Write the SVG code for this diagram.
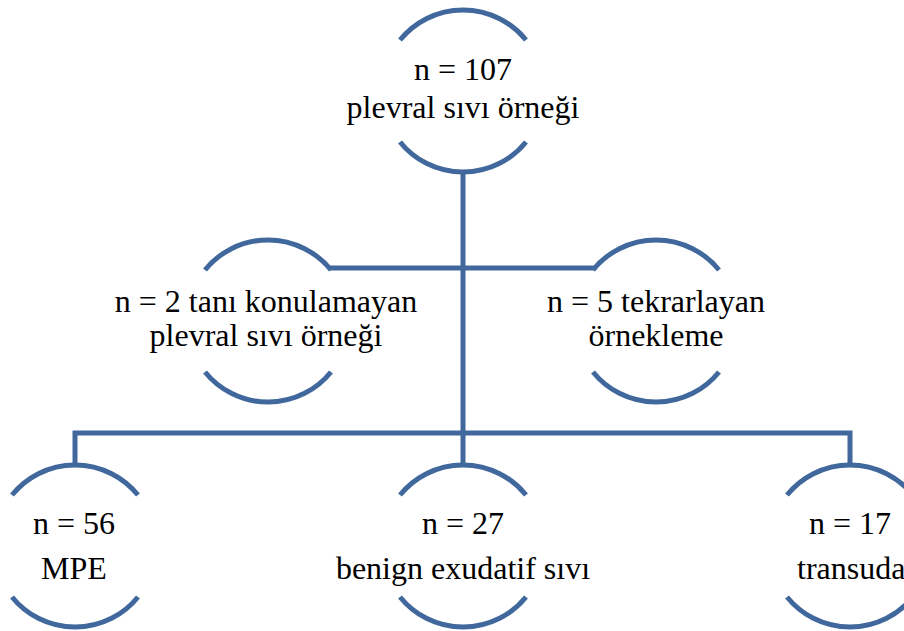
<svg xmlns="http://www.w3.org/2000/svg" width="904" height="631" viewBox="0 0 904 631">
<style>
.arc{fill:none;stroke:#41689c;stroke-width:5}
.con{fill:none;stroke:#41689c;stroke-width:5}
.t{font-size:32px;fill:#000;text-anchor:middle}
</style>
<rect width="904" height="631" fill="#fff"/>
<g id="connectors">
<path class="con" d="M463,172 V465"/>
<path class="con" d="M330,268 H594"/>
<path class="con" d="M75,466 V433 H850 V466"/>
</g>
<g font-family="Liberation Serif, DejaVu Serif, serif">
<g id="n107">
<path class="arc" d="M400,40 A81,81 0 0 1 526,40"/>
<path class="arc" d="M400,142 A81,81 0 0 0 526,142"/>
<text class="t" x="463" y="80">n = 107</text>
<text class="t" x="463" y="118">plevral sıvı örneği</text>
</g>
<g id="n2">
<path class="arc" d="M205,270 A81,81 0 0 1 331,270"/>
<path class="arc" d="M205,372 A81,81 0 0 0 331,372"/>
<text class="t" x="266" y="312">n = 2 tanı konulamayan</text>
<text class="t" x="266" y="346">plevral sıvı örneği</text>
</g>
<g id="n5">
<path class="arc" d="M593,270 A81,81 0 0 1 719,270"/>
<path class="arc" d="M593,372 A81,81 0 0 0 719,372"/>
<text class="t" x="656" y="312">n = 5 tekrarlayan</text>
<text class="t" x="656" y="346">örnekleme</text>
</g>
<g id="n56">
<path class="arc" d="M12,495 A81,81 0 0 1 138,495"/>
<path class="arc" d="M12,597 A81,81 0 0 0 138,597"/>
<text class="t" x="74" y="534">n = 56</text>
<text class="t" x="74" y="579">MPE</text>
</g>
<g id="n27">
<path class="arc" d="M400,495 A81,81 0 0 1 526,495"/>
<path class="arc" d="M400,597 A81,81 0 0 0 526,597"/>
<text class="t" x="463" y="534">n = 27</text>
<text class="t" x="463" y="579">benign exudatif sıvı</text>
</g>
<g id="n17">
<path class="arc" d="M787,495 A81,81 0 0 1 913,495"/>
<path class="arc" d="M787,597 A81,81 0 0 0 913,597"/>
<text class="t" x="850" y="534">n = 17</text>
<text class="t" x="797" y="579" text-anchor="start" style="text-anchor:start">transuda</text>
</g>
</g>
</svg>
